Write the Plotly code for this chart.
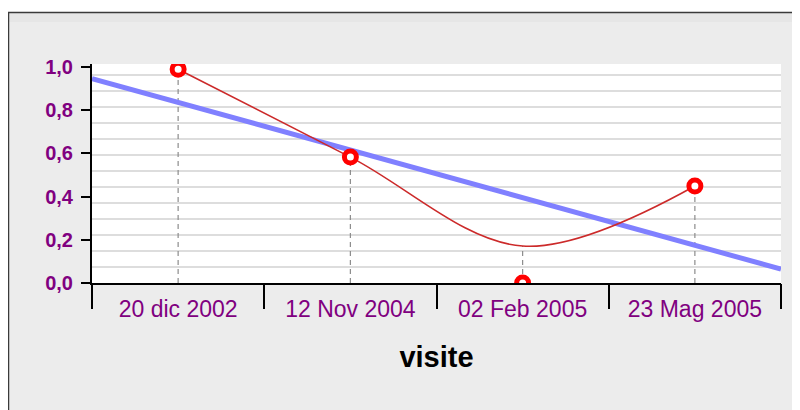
import numpy as np
import plotly.graph_objects as go

# ---- data ----
categorie = ["20 dic 2002", "12 Nov 2004", "02 Feb 2005", "23 Mag 2005"]
valori = [0.99, 0.583, 0.0, 0.449]      # measured points (red rings)
curva = [0.99, 0.583, 0.171, 0.449]     # smoothed red curve at each category
y_ticks = [0.0, 0.2, 0.4, 0.6, 0.8, 1.0]
titolo_x = "visite"

idx = np.arange(len(categorie))
bordi = [i - 0.5 for i in range(len(categorie) + 1)]

# linear trend of the measured points
slope, inter = np.polyfit(idx, valori, 1)
x_trend = [bordi[0], bordi[-1]]
y_trend = [inter + slope * x for x in x_trend]

drop_x, drop_y = [], []
for i, v in zip(idx, curva):
    drop_x += [i, i, None]
    drop_y += [0, v, None]

PURPLE = "#800080"
FONT = "Liberation Sans, Arial, sans-serif"

fig = go.Figure()
fig.add_trace(go.Scatter(x=drop_x, y=drop_y, mode="lines",
                         line=dict(color="#8c8c8c", width=1.2, dash="5px,4px"),
                         hoverinfo="skip"))
fig.add_trace(go.Scatter(x=x_trend, y=y_trend, mode="lines",
                         line=dict(color="#8080ff", width=5)))
fig.add_trace(go.Scatter(x=idx, y=curva, mode="lines",
                         line=dict(color="#cc2a2a", width=1.6, shape="spline", smoothing=1)))
fig.add_trace(go.Scatter(x=idx, y=valori, mode="markers",
                         marker=dict(symbol="circle", size=12, color="white",
                                     line=dict(color="#ff0000", width=5))))
fig.add_trace(go.Scatter(x=[None], y=[None], xaxis="x2", mode="lines",
                         hoverinfo="skip"))

# the page shows the figure with an 8px body offset
OFF = 8
W, H = 800, 410
L, T = 92 - OFF, 64 - OFF
pw, ph = 689, 219
R, B = W - L - pw, H - T - ph
def px(x): return (x - OFF - L) / pw
def py(y): return (T + ph - (y - OFF)) / ph

shapes = [
    dict(type="rect", xref="paper", yref="paper", x0=px(-20), x1=px(W + 20),
         y0=py(12), y1=py(-20), fillcolor="white", line=dict(width=0)),
    dict(type="rect", xref="paper", yref="paper", x0=px(-20), x1=px(8),
         y0=py(H + 20), y1=py(12), fillcolor="white", line=dict(width=0)),
    dict(type="rect", xref="paper", yref="paper", x0=px(8), x1=px(W + 20),
         y0=py(22), y1=py(12), fillcolor="#e6e6e6", line=dict(width=0)),
    dict(type="line", xref="paper", yref="paper", x0=px(8), x1=px(W + 20),
         y0=py(12.5), y1=py(12.5), line=dict(color="#3a3a3a", width=1.5)),
    dict(type="line", xref="paper", yref="paper", x0=px(8.5), x1=px(8.5),
         y0=py(12), y1=py(H + 20), line=dict(color="#3a3a3a", width=1.5)),
]

fig.update_layout(
    width=W, height=H,
    margin=dict(l=L, r=R, t=T, b=B),
    paper_bgcolor="#ececec", plot_bgcolor="white",
    showlegend=False, separators=",.",
    shapes=shapes,
    xaxis=dict(range=[bordi[0], bordi[-1]], tickvals=idx, ticktext=categorie,
               ticks="", showline=True, linecolor="black", linewidth=2,
               showgrid=False, zeroline=False,
               tickfont=dict(family=FONT, size=23, color=PURPLE),
               ticklabelstandoff=4,
               title=dict(text="<b>" + titolo_x + "</b>", standoff=26,
                          font=dict(family=FONT, size=29, color="black"))),
    xaxis2=dict(overlaying="x", anchor="y", side="bottom",
                range=[bordi[0], bordi[-1]], tickvals=bordi,
                ticks="outside", ticklen=25, tickwidth=2, tickcolor="black",
                showticklabels=False, showgrid=False, zeroline=False, showline=False),
    yaxis=dict(range=[0, 1.014], tickvals=y_ticks, tickformat=".1f",
               ticks="outside", ticklen=9, tickwidth=2, tickcolor="black",
               showline=True, linecolor="black", linewidth=2,
               showgrid=False, zeroline=False, ticklabelstandoff=4,
               tickfont=dict(family=FONT, size=20, color=PURPLE, weight="bold"),
               minor=dict(tick0=0, dtick=0.074074, showgrid=True,
                          gridcolor="#dddddd", gridwidth=2, ticks="")),
)

fig.write_html("out.html")
